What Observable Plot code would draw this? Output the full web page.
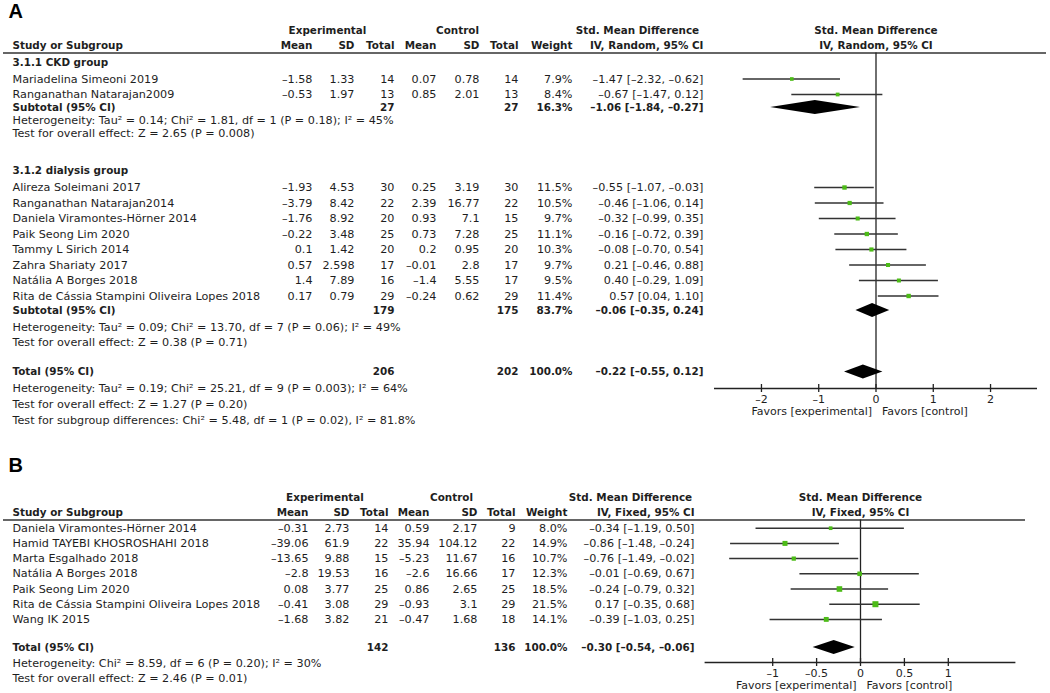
<!DOCTYPE html>
<html><head><meta charset="utf-8">
<script src="https://cdn.jsdelivr.net/npm/d3@7"></script>
<script src="https://cdn.jsdelivr.net/npm/@observablehq/plot@0.6"></script>
<style>
html,body{margin:0;padding:0;background:#fff}
#chart svg{display:block}
</style>
</head><body><div id="chart"></div>
<script>
// ---------------- Panel A data ----------------
const studyA = ["Mariadelina Simeoni 2019","Ranganathan Natarajan2009","Alireza Soleimani 2017","Ranganathan Natarajan2014","Daniela Viramontes-Hörner 2014","Paik Seong Lim 2020","Tammy L Sirich 2014","Zahra Shariaty 2017","Natália A Borges 2018","Rita de Cássia Stampini Oliveira Lopes 2018"];
const groupA = ["CKD","CKD","dialysis","dialysis","dialysis","dialysis","dialysis","dialysis","dialysis","dialysis"];
const expMeanA = [-1.58,-0.53,-1.93,-3.79,-1.76,-0.22,0.1,0.57,1.4,0.17];
const expSDA = ["1.33","1.97","4.53","8.42","8.92","3.48","1.42","2.598","7.89","0.79"];
const expNA = [14,13,30,22,20,25,20,17,16,29];
const ctrlMeanA = [0.07,0.85,0.25,2.39,0.93,0.73,0.2,-0.01,-1.4,-0.24];
const ctrlSDA = ["0.78","2.01","3.19","16.77","7.1","7.28","0.95","2.8","5.55","0.62"];
const ctrlNA = [14,13,30,22,15,25,20,17,17,29];
const weightA = [7.9,8.4,11.5,10.5,9.7,11.1,10.3,9.7,9.5,11.4];
const smdA = [-1.47,-0.67,-0.55,-0.46,-0.32,-0.16,-0.08,0.21,0.40,0.57];
const loA = [-2.32,-1.47,-1.07,-1.06,-0.99,-0.72,-0.70,-0.46,-0.29,0.04];
const hiA = [-0.62,0.12,-0.03,0.14,0.35,0.39,0.54,0.88,1.09,1.10];

const groupKeysA = ["CKD","dialysis"];
const groupTitlesA = ["3.1.1 CKD group","3.1.2 dialysis group"];
const subExpNA = [27,179];
const subCtrlNA = [27,175];
const subWeightA = [16.3,83.7];
const subSmdA = [-1.06,-0.06];
const subLoA = [-1.84,-0.35];
const subHiA = [-0.27,0.24];
const subHetA = ["Heterogeneity: Tau² = 0.14; Chi² = 1.81, df = 1 (P = 0.18); I² = 45%","Heterogeneity: Tau² = 0.09; Chi² = 13.70, df = 7 (P = 0.06); I² = 49%"];
const subTestA = ["Test for overall effect: Z = 2.65 (P = 0.008)","Test for overall effect: Z = 0.38 (P = 0.71)"];

const totalNA = [206,202];
const totalWeightA = 100.0;
const totalEstA = [-0.22,-0.55,0.12];
const totalNotesA = ["Heterogeneity: Tau² = 0.19; Chi² = 25.21, df = 9 (P = 0.003); I² = 64%","Test for overall effect: Z = 1.27 (P = 0.20)","Test for subgroup differences: Chi² = 5.48, df = 1 (P = 0.02), I² = 81.8%"];
const ticksA = [-2,-1,0,1,2];

// ---------------- Panel B data ----------------
const studyB = ["Daniela Viramontes-Hörner 2014","Hamid TAYEBI KHOSROSHAHI 2018","Marta Esgalhado 2018","Natália A Borges 2018","Paik Seong Lim 2020","Rita de Cássia Stampini Oliveira Lopes 2018","Wang IK 2015"];
const expMeanB = [-0.31,-39.06,-13.65,-2.8,0.08,-0.41,-1.68];
const expSDB = ["2.73","61.9","9.88","19.53","3.77","3.08","3.82"];
const expNB = [14,22,15,16,25,29,21];
const ctrlMeanB = [0.59,35.94,-5.23,-2.6,0.86,-0.93,-0.47];
const ctrlSDB = ["2.17","104.12","11.67","16.66","2.65","3.1","1.68"];
const ctrlNB = [9,22,16,17,25,29,18];
const weightB = [8.0,14.9,10.7,12.3,18.5,21.5,14.1];
const smdB = [-0.34,-0.86,-0.76,-0.01,-0.24,0.17,-0.39];
const loB = [-1.19,-1.48,-1.49,-0.69,-0.79,-0.35,-1.03];
const hiB = [0.50,-0.24,-0.02,0.67,0.32,0.68,0.25];
const totalNB = [142,136];
const totalWeightB = 100.0;
const totalEstB = [-0.30,-0.54,-0.06];
const totalNotesB = ["Heterogeneity: Chi² = 8.59, df = 6 (P = 0.20); I² = 30%","Test for overall effect: Z = 2.46 (P = 0.01)"];
const ticksB = [-1,-0.5,0,0.5,1];

// ---------------- helpers ----------------
const FONT = "DejaVu Sans";
const INK = "#1e1e1e";
const GREEN = "#4cbb17";
const dash = s => String(s).replace("-", "–");
const f2 = v => dash(v.toFixed(2));
const ci = (e, l, h) => `${f2(e)} [${f2(l)}, ${f2(h)}]`;
const pct = w => w.toFixed(1) + "%";

function placeRows(rows, start) {
  let y = start;
  rows.forEach(r => { y += r.adv; r.y = y; });
  return rows;
}

function tableMarks(rows, cols) {
  const marks = [];
  for (const [field, px, anchor] of cols) {
    for (const bold of [false, true]) {
      const sub = rows.filter(r => r[field] != null && !!r.bold === bold);
      if (!sub.length) continue;
      marks.push(Plot.text(sub, {
        y: "y", text: field, frameAnchor: "left", dx: px, textAnchor: anchor,
        fontFamily: FONT, fontSize: bold ? 10.4 : 11.2, fontWeight: bold ? "bold" : "normal", fill: INK
      }));
    }
  }
  return marks;
}

function headerMarks(cells) {
  return cells.map(([t, px, anchor, y]) => Plot.text([t], {
    y: () => y, text: d => d, frameAnchor: "left", dx: px, textAnchor: anchor,
    fontFamily: FONT, fontSize: 10.4, fontWeight: "bold", fill: INK
  }));
}

function diamonds(rows) {
  const pts = [];
  rows.filter(r => r.kind === "subtotal" || r.kind === "total").forEach((r, i) => {
    pts.push({id: i, x: r.lo, y1: r.y, y2: r.y});
    pts.push({id: i, x: r.est, y1: r.y - 7, y2: r.y + 7});
    pts.push({id: i, x: r.hi, y1: r.y, y2: r.y});
  });
  return Plot.areaY(pts, {x: "x", y1: "y1", y2: "y2", z: "id", fill: "#000", curve: "linear"});
}

function forestMarks(rows, opts) {
  const studies = rows.filter(r => r.kind === "study");
  return [
    Plot.ruleX([0], {y1: opts.headerY, y2: opts.axisY, stroke: "#222", strokeWidth: 1.3}),
    Plot.ruleY(studies, {y: "y", x1: "lo", x2: "hi", stroke: "#333", strokeWidth: 1.5}),
    Plot.dot(studies, {x: "est", y: "y", r: "w0", symbol: "square", fill: GREEN, stroke: "none"}),
    diamonds(rows),
    Plot.ruleY([opts.axisY], {x1: opts.domain[0], x2: opts.domain[1], stroke: "#222", strokeWidth: 1.3}),
    Plot.ruleX(opts.ticks, {x: d => d, y1: opts.axisY - 4, y2: opts.axisY + 4, stroke: "#222", strokeWidth: 1.3}),
    Plot.text(opts.ticks, {x: d => d, y: () => opts.axisY + 11, text: d => dash(d), fontFamily: FONT, fontSize: 11, fill: INK}),
    Plot.text(["Favors [experimental]"], {x: () => 0, y: () => opts.axisY + 23, text: d => d, textAnchor: "end", dx: -4, fontFamily: FONT, fontSize: 11, fill: INK}),
    Plot.text(["Favors [control]"], {x: () => 0, y: () => opts.axisY + 23, text: d => d, textAnchor: "start", dx: 6, fontFamily: FONT, fontSize: 11, fill: INK}),
    Plot.text(["Std. Mean Difference"], {x: () => 0, y: () => opts.headY1, text: d => d, fontFamily: FONT, fontSize: 10.4, fontWeight: "bold", fill: INK}),
    Plot.text([opts.method], {x: () => 0, y: () => opts.headY2, text: d => d, fontFamily: FONT, fontSize: 10.4, fontWeight: "bold", fill: INK})
  ];
}

// ---------------- Panel A ----------------
const rowsA = [];
groupKeysA.forEach((key, g) => {
  rowsA.push({adv: g === 0 ? 9.5 : 38, kind: "group", label: groupTitlesA[g], bold: true});
  let first = true;
  studyA.forEach((name, i) => {
    if (groupA[i] !== key) return;
    rowsA.push({adv: first ? 16.5 : 15.5, kind: "study", label: name,
      em: dash(expMeanA[i]), esd: expSDA[i], en: expNA[i], cm: dash(ctrlMeanA[i]), csd: ctrlSDA[i], cn: ctrlNA[i],
      w: pct(weightA[i]), w0: weightA[i], ci: ci(smdA[i], loA[i], hiA[i]), est: smdA[i], lo: loA[i], hi: hiA[i]});
    first = false;
  });
  rowsA.push({adv: g === 0 ? 13 : 14.5, kind: "subtotal", label: "Subtotal (95% CI)", bold: true,
    en: subExpNA[g], cn: subCtrlNA[g], w: pct(subWeightA[g]), ci: ci(subSmdA[g], subLoA[g], subHiA[g]),
    est: subSmdA[g], lo: subLoA[g], hi: subHiA[g]});
  rowsA.push({adv: g === 0 ? 13 : 16.5, kind: "note", label: subHetA[g]});
  rowsA.push({adv: g === 0 ? 12.5 : 15.5, kind: "note", label: subTestA[g]});
});
rowsA.push({adv: 29.5, kind: "total", label: "Total (95% CI)", bold: true, en: totalNA[0], cn: totalNA[1],
  w: pct(totalWeightA), ci: ci(...totalEstA), est: totalEstA[0], lo: totalEstA[1], hi: totalEstA[2]});
totalNotesA.forEach((t, i) => rowsA.push({adv: i === 0 ? 16.5 : 16, kind: "note", label: t}));
const headerLineA = 52.5;
placeRows(rowsA, headerLineA);

const colsA = [["label", 12, "start"], ["em", 312, "end"], ["esd", 354, "end"], ["en", 394, "end"], ["cm", 436, "end"], ["csd", 479, "end"], ["cn", 518, "end"], ["w", 572, "end"], ["ci", 703, "end"]];
const headA = [
  ["Experimental", 327, "middle", 30], ["Control", 457, "middle", 30], ["Std. Mean Difference", 637, "middle", 30],
  ["Study or Subgroup", 12, "start", 45], ["Mean", 312, "end", 45], ["SD", 354, "end", 45], ["Total", 394, "end", 45],
  ["Mean", 436, "end", 45], ["SD", 479, "end", 45], ["Total", 518, "end", 45], ["Weight", 572, "end", 45], ["IV, Random, 95% CI", 703, "end", 45]
];
const domA = [-2.82, 2.82];
const plotA = Plot.plot({
  width: 1050, height: 440, marginLeft: 0, marginRight: 0, marginTop: 0, marginBottom: 0,
  x: {domain: domA, range: [714, 1037], axis: null},
  y: {domain: [0, 440], range: [0, 440], axis: null},
  r: {domain: [0, 21.5], range: [0, 3.4]},
  style: {fontFamily: FONT, background: "#fff", color: INK},
  marks: [
    Plot.text(["A"], {frameAnchor: "left", dx: 8, y: () => 11.5, text: d => d, fontFamily: "Liberation Sans", fontSize: 20, fontWeight: "bold", fill: "#000"}),
    ...headerMarks(headA),
    Plot.ruleY([headerLineA], {insetLeft: 3, insetRight: 4, stroke: "#333", strokeWidth: 1.5}),
    ...tableMarks(rowsA, colsA),
    ...forestMarks(rowsA, {headerY: headerLineA, axisY: 388, domain: domA, ticks: ticksA, headY1: 30, headY2: 45, method: "IV, Random, 95% CI"})
  ]
});

// ---------------- Panel B ----------------
const rowsB = [];
studyB.forEach((name, i) => {
  rowsB.push({adv: i === 0 ? 8.2 : 15.2, kind: "study", label: name,
    em: dash(expMeanB[i]), esd: expSDB[i], en: expNB[i], cm: dash(ctrlMeanB[i]), csd: ctrlSDB[i], cn: ctrlNB[i],
    w: pct(weightB[i]), w0: weightB[i], ci: ci(smdB[i], loB[i], hiB[i]), est: smdB[i], lo: loB[i], hi: hiB[i]});
});
rowsB.push({adv: 28, kind: "total", label: "Total (95% CI)", bold: true, en: totalNB[0], cn: totalNB[1],
  w: pct(totalWeightB), ci: ci(...totalEstB), est: totalEstB[0], lo: totalEstB[1], hi: totalEstB[2]});
totalNotesB.forEach((t, i) => rowsB.push({adv: i === 0 ? 16.5 : 15, kind: "note", label: t}));
const headerLineB = 519.5;
placeRows(rowsB, headerLineB);

const colsB = [["label", 12, "start"], ["em", 308, "end"], ["esd", 349, "end"], ["en", 388, "end"], ["cm", 429, "end"], ["csd", 477, "end"], ["cn", 515, "end"], ["w", 567, "end"], ["ci", 694, "end"]];
const headB = [
  ["Experimental", 324.5, "middle", 497.5], ["Control", 451, "middle", 497.5], ["Std. Mean Difference", 630, "middle", 497.5],
  ["Study or Subgroup", 12, "start", 512.5], ["Mean", 308, "end", 512.5], ["SD", 349, "end", 512.5], ["Total", 388, "end", 512.5],
  ["Mean", 429, "end", 512.5], ["SD", 477, "end", 512.5], ["Total", 515, "end", 512.5], ["Weight", 567, "end", 512.5], ["IV, Fixed, 95% CI", 694, "end", 512.5]
];
const domB = [-1.77, 1.77];
const plotB = Plot.plot({
  width: 1050, height: 253, marginLeft: 0, marginRight: 0, marginTop: 0, marginBottom: 0,
  x: {domain: domB, range: [704.6, 1015.4], axis: null},
  y: {domain: [440, 693], range: [0, 253], axis: null},
  r: {domain: [0, 21.5], range: [0, 3.4]},
  style: {fontFamily: FONT, background: "#fff", color: INK},
  marks: [
    Plot.text(["B"], {frameAnchor: "left", dx: 8, y: () => 465, text: d => d, fontFamily: "Liberation Sans", fontSize: 20, fontWeight: "bold", fill: "#000"}),
    ...headerMarks(headB),
    Plot.ruleY([headerLineB], {insetLeft: 3, insetRight: 25, stroke: "#333", strokeWidth: 1.5}),
    ...tableMarks(rowsB, colsB),
    ...forestMarks(rowsB, {headerY: headerLineB, axisY: 662, domain: domB, ticks: ticksB, headY1: 497.5, headY2: 512.5, method: "IV, Fixed, 95% CI"})
  ]
});

const root = document.getElementById("chart");
root.appendChild(plotA);
root.appendChild(plotB);
</script>
</body></html>
